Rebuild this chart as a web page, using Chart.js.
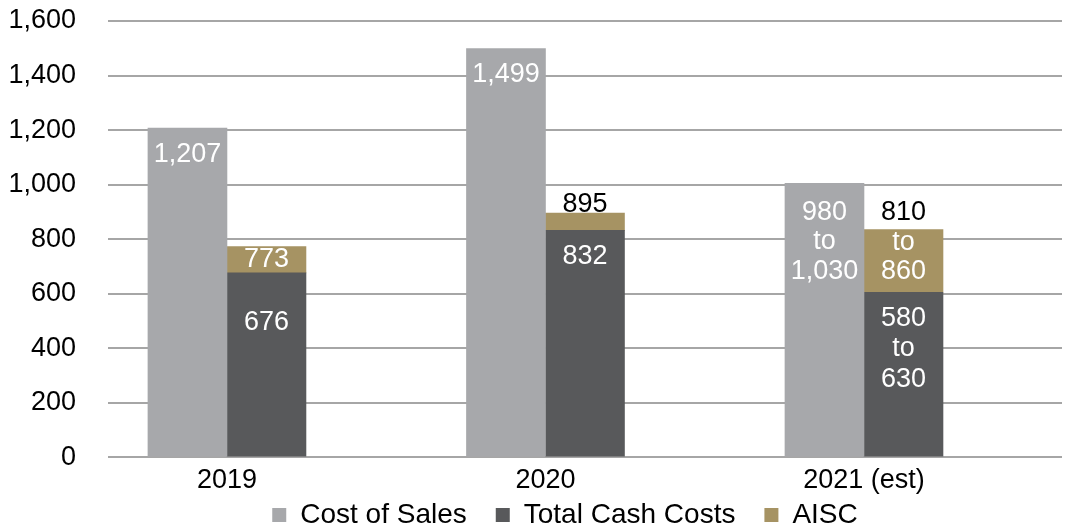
<!DOCTYPE html>
<html>
<head>
<meta charset="utf-8">
<script src="https://cdn.jsdelivr.net/npm/chart.js@4/dist/chart.umd.min.js"></script>
<style>
  html, body { margin: 0; padding: 0; background: #fff; }
  #box { width: 1071px; height: 532px; }
</style>
</head>
<body>
<div id="box"><canvas id="costos"></canvas></div>
<script>
// datos
var years = ["2019", "2020", "2021 (est)"];
var costOfSales = [1207, 1499, 1005];
var totalCashCosts = [676, 832, 605];
var aisc = [773, 895, 835];

// textos de las etiquetas (2021 es un rango)
var costLabels = [["1,207"], ["1,499"], ["980", "to", "1,030"]];
var cashLabels = [["676"], ["832"], ["580", "to", "630"]];
var aiscLabels = [["773"], ["895"], ["810", "to", "860"]];

var yTicks = [0, 200, 400, 600, 800, 1000, 1200, 1400, 1600];

var fuente = "'Liberation Sans', Arial, sans-serif";

// puntos para el eje x lineal
function puntos(vals) {
  return vals.map((v, i) => ({ x: i, y: v }));
}

// etiquetas de cada barra
const etiquetas = {
  id: "etiquetas",
  afterDatasetsDraw(chart, args, opts) {
    const ctx = chart.ctx;
    ctx.save();
    ctx.font = "27px " + fuente;
    ctx.textAlign = "center";
    ctx.textBaseline = "middle";
    opts.textos.forEach((lista, d) => {
      const meta = chart.getDatasetMeta(d);
      meta.data.forEach((bar, i) => {
        const lineas = lista[i];
        let y = bar.y + opts.offsets[d][i];
        lineas.forEach((t, k) => {
          let color = "#ffffff";
          if (opts.colores[d] && opts.colores[d][i]) color = opts.colores[d][i][k];
          ctx.fillStyle = color;
          ctx.fillText(t, bar.x, y + k * opts.alto[d]);
        });
      });
    });
    ctx.restore();
  },
};

// mover la leyenda a su sitio
const moverLeyenda = {
  id: "moverLeyenda",
  afterLayout(chart, args, opts) {
    const lg = chart.legend;
    const dx = opts.centroX - (lg.left + lg.right) / 2;
    const dy = opts.arriba - lg.top;
    lg.left += dx;
    lg.right += dx;
    lg.top += dy;
    lg.bottom += dy;
  },
};

const grafica = document.querySelector("#costos").getContext("2d");
new Chart(grafica, {
  type: "bar",
  data: {
    datasets: [
      {
        label: "Cost of Sales",
        data: puntos(costOfSales),
        stack: "cos",
        backgroundColor: "#a7a8ab",
      },
      {
        label: "Total Cash Costs",
        data: puntos(totalCashCosts),
        stack: "cash",
        backgroundColor: "#58595b",
      },
      {
        label: "AISC",
        data: puntos(aisc.map((v, i) => v - totalCashCosts[i])),
        stack: "cash",
        backgroundColor: "#a69363",
      },
    ],
  },
  options: {
    responsive: true,
    maintainAspectRatio: false,
    animation: false,
    barThickness: 79,
    layout: {
      autoPadding: false,
      padding: { left: -23.6, right: 9, top: 21, bottom: -34.6 },
    },
    scales: {
      x: {
        type: "linear",
        offset: false,
        min: -0.3736,
        max: 2.6217,
        afterBuildTicks: (s) => {
          s.ticks = years.map((_, i) => ({ value: i }));
        },
        ticks: {
          callback: (v) => years[v],
          color: "#000",
          font: { family: fuente, size: 27 },
          padding: 3,
          maxRotation: 0,
        },
        grid: { display: false, tickLength: 4 },
        border: { display: false },
      },
      y: {
        stacked: true,
        min: 0,
        max: 1600,
        afterBuildTicks: (s) => {
          s.ticks = yTicks.map((v) => ({ value: v }));
        },
        afterFit: (s) => {
          // sin relleno extra arriba y abajo
          s.paddingTop = 0;
          s.paddingBottom = 0;
        },
        ticks: {
          color: "#000",
          font: { family: fuente, size: 27 },
          padding: 32,
        },
        grid: { color: "#a6a6a6", lineWidth: 2, drawTicks: false },
        border: { display: false },
      },
    },
    plugins: {
      legend: {
        position: "bottom",
        labels: {
          color: "#000",
          font: { family: fuente, size: 28 },
          boxWidth: 14,
          boxHeight: 14,
          padding: 29,
        },
      },
      tooltip: { enabled: false },
      moverLeyenda: { centroX: 565, arriba: 472 },
      etiquetas: {
        textos: [costLabels, cashLabels, aiscLabels],
        offsets: [[26, 26, 29], [50, 26, 26], [13, -9, -17]],
        alto: [29.5, 30.5, 29.5],
        colores: [null, null, [["#fff"], ["#000"], ["#000", "#fff", "#fff"]]],
      },
    },
  },
  plugins: [etiquetas, moverLeyenda],
});
</script>
</body>
</html>
